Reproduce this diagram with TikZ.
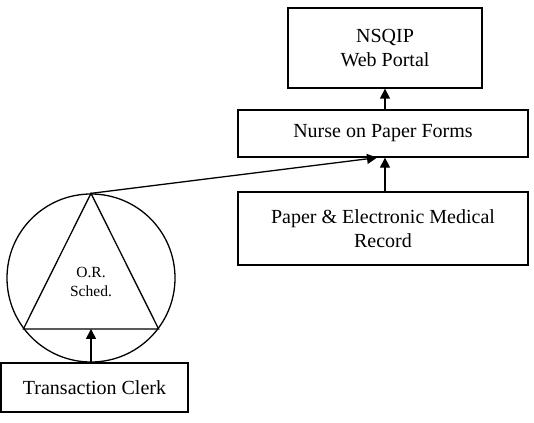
\documentclass[tikz,border=0pt]{standalone}
\usepackage{fontspec}
\setmainfont{Liberation Serif}
\usetikzlibrary{arrows.meta,calc}
\begin{document}
\begin{tikzpicture}[x=1pt,y=-1pt,
  every path/.style={line width=1.3pt},
  box/.style={draw,line width=1.3pt,inner sep=0pt,align=center,font=\fontsize{20}{23.5}\selectfont},
  arr/.style={-{Triangle[length=10pt,width=10pt]},line width=1.3pt}]
\useasboundingbox (0,0) rectangle (534,422);
\node[box,minimum width=194pt,minimum height=80pt] (nsqip) at (385,48) {NSQIP\\Web Portal};
\node[box,minimum width=290pt,minimum height=47pt] (nurse) at (383,133.5) {Nurse on Paper Forms};
\node[box,minimum width=290pt,minimum height=73pt] (paper) at (383,228.5) {Paper \& Electronic Medical\\Record};
\node[box,minimum width=187pt,minimum height=49pt] (clerk) at (94.5,387.5) {Transaction Clerk};
\node[draw,circle,line width=1.3pt,minimum size=168pt,inner sep=0pt] (orc) at (91,278) {};
\coordinate (apex) at (orc.north);
\coordinate (bl) at (orc.-143);
\coordinate (br) at (orc.-37);
\draw[line width=1.3pt] (apex) -- (bl) -- (br) -- cycle;
\coordinate (basemid) at ($(bl)!0.5!(br)$);
\node[align=center,font=\fontsize{15.5}{19}\selectfont] (ors) at (91,282) {O.R.\\Sched.};
\coordinate (nin) at ([xshift=-6pt]nurse.south);
\draw[arr] (nsqip.south |- nurse.north) -- (nsqip.south);
\draw[arr] (paper.north -| nsqip.south) -- (nurse.south -| nsqip.south);
\draw[arr] (apex) -- (nin);
\draw[arr] (clerk.north -| basemid) -- (basemid);
\end{tikzpicture}
\end{document}
